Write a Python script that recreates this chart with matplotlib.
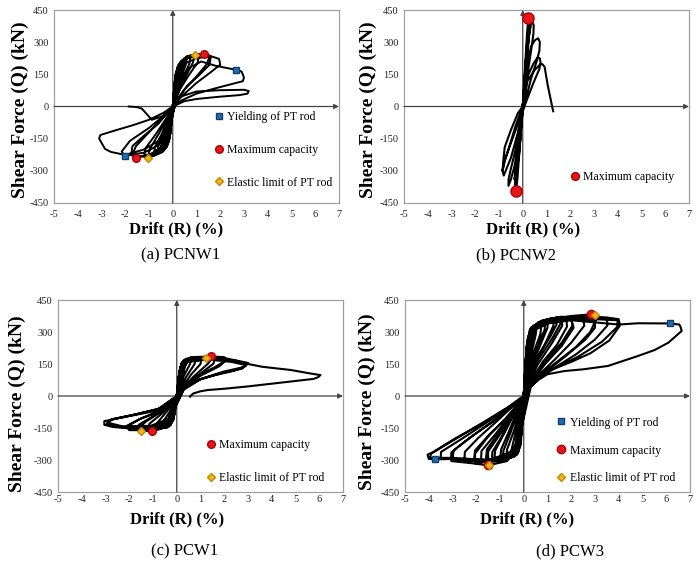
import numpy as np
import matplotlib.pyplot as plt

# --- 1. DATA (drift %, shear force kN) ---

pcnw1_curve = [
    (0, 0), (0.05, 60), (0.1, 110), (0.08, 80), (0.02, 20), (-0.05, -50), (-0.1, -100), (-0.08, -70), (-0.02, -15), (0, 0),
    (0.06, 90), (0.12, 150), (0.25, 190), (0.22, 160), (0.12, 90), (0.03, 20), (-0.06, -80), (-0.12, -140), (-0.25, -180),
    (-0.22, -150), (-0.12, -80), (-0.03, -15), (0, 0),
    (0.04, 60), (0.1, 130), (0.2, 175), (0.32, 200), (0.3, 170), (0.18, 110), (0.05, 30), (0, 0), (-0.04, -55),
    (-0.1, -125), (-0.2, -170), (-0.32, -190), (-0.3, -160), (-0.18, -100), (-0.05, -25), (0, 0),
    (0.1, 140), (0.2, 185), (0.4, 215), (0.36, 180), (0.2, 110), (0.05, 25), (-0.1, -120), (-0.2, -175), (-0.4, -205),
    (-0.36, -170), (-0.2, -100), (-0.05, -20), (0, 0),
    (0.05, 70), (0.12, 140), (0.25, 195), (0.5, 225), (0.48, 190), (0.3, 130), (0.1, 45), (0, 0), (-0.05, -70),
    (-0.12, -140), (-0.25, -190), (-0.5, -215), (-0.48, -180), (-0.3, -115), (-0.1, -35), (0, 0),
    (0.1, 130), (0.25, 195), (0.6, 232), (0.55, 195), (0.3, 120), (0.1, 40), (-0.1, -110), (-0.3, -185), (-0.65, -220),
    (-0.6, -180), (-0.35, -110), (-0.1, -30), (0, 0),
    (0.06, 80), (0.15, 160), (0.35, 210), (0.75, 237), (0.7, 200), (0.45, 140), (0.15, 55), (0, 0), (-0.06, -80),
    (-0.15, -160), (-0.4, -210), (-0.8, -230), (-0.75, -190), (-0.45, -125), (-0.15, -40), (0, 0),
    (0.12, 140), (0.3, 205), (0.6, 235), (0.92, 241), (0.85, 205), (0.5, 130), (0.15, 45), (-0.1, -90), (-0.3, -175),
    (-0.7, -225), (-1.05, -238), (-0.95, -195), (-0.55, -120), (-0.15, -35), (0, 0),
    (0.07, 90), (0.2, 175), (0.5, 225), (1.1, 243), (1.05, 205), (0.7, 150), (0.3, 80), (0.05, 15), (-0.07, -90),
    (-0.2, -170), (-0.6, -220), (-1.2, -235), (-1.15, -195), (-0.75, -135), (-0.3, -60), (0, 0),
    (0.15, 140), (0.35, 205), (0.8, 238), (1.33, 246), (1.55, 238), (1.45, 200), (1.0, 140), (0.5, 80), (0.15, 25),
    (-0.15, -100), (-0.5, -190), (-1.0, -228), (-1.55, -238), (-1.7, -225), (-1.55, -185), (-1.0, -120), (-0.4, -50), (0, 0),
    (0.2, 165), (0.6, 225), (1.2, 240), (1.6, 232), (1.55, 195), (1.1, 145), (0.6, 95), (0.2, 35), (0, 0),
    (-0.2, -160), (-0.7, -215), (-1.3, -232), (-1.75, -228), (-1.7, -185), (-1.2, -135), (-0.6, -80), (-0.2, -25), (0, 0),
    (0.2, 140), (0.5, 200), (1.0, 225), (1.6, 235), (1.95, 222), (2.0, 195), (1.6, 160), (1.0, 110), (0.4, 50), (0.1, 10),
    (-0.2, -110), (-0.6, -180), (-1.2, -215), (-2.03, -230), (-2.15, -210), (-1.8, -160), (-1.0, -100), (-0.4, -45), (0, 0),
    (0.3, 120), (0.7, 180), (1.2, 210), (1.8, 190), (2.67, 171), (2.9, 163), (3.0, 135), (2.95, 118), (2.5, 105),
    (1.8, 85), (1.0, 60), (0.4, 30), (0.1, 5), (-0.2, -90), (-0.6, -160), (-1.2, -200), (-2.0, -226), (-2.6, -212),
    (-2.85, -198), (-3.1, -150), (-3.05, -133), (-2.5, -114), (-1.7, -88), (-1.0, -62), (-0.4, -30), (0, 0),
    (0.3, 45), (1.0, 70), (2.0, 76), (3.0, 78), (3.2, 72), (3.15, 60), (2.8, 53), (2.0, 46), (1.0, 35), (0.5, 25),
    (0.1, 5), (-0.2, -20), (-0.4, -44), (-0.88, -62), (-1.3, -10), (-1.5, -3), (-1.85, 0),
]

pcnw2_curve = [
    (0, 0), (0.05, 60), (0.1, 130), (0.12, 150), (0.08, 90), (0, 0), (-0.05, -70), (-0.1, -140), (-0.07, -80), (0, 0),
    (0.08, 130), (0.15, 230), (0.18, 250), (0.12, 160), (0.02, 20), (-0.08, -120), (-0.16, -230), (-0.2, -255),
    (-0.15, -170), (-0.03, -20), (0, 0),
    (0.1, 170), (0.2, 320), (0.28, 370), (0.25, 330), (0.12, 170), (0, 0), (-0.12, -170), (-0.25, -300), (-0.35, -340),
    (-0.3, -290), (-0.15, -140), (0, 0),
    (0.1, 190), (0.18, 340), (0.24, 414), (0.3, 400), (0.28, 350), (0.15, 180), (0.02, 10), (-0.12, -180),
    (-0.22, -330), (-0.28, -395), (-0.33, -370), (-0.3, -310), (-0.15, -150), (0, 0),
    (0.12, 180), (0.25, 320), (0.35, 385), (0.42, 392), (0.46, 380), (0.45, 340), (0.35, 260), (0.2, 150), (0.02, 0),
    (-0.15, -150), (-0.35, -280), (-0.5, -340), (-0.6, -370), (-0.6, -340), (-0.5, -290), (-0.3, -200), (0, 0),
    (0.15, 170), (0.35, 280), (0.52, 310), (0.65, 318), (0.72, 300), (0.7, 260), (0.6, 215), (0.35, 130), (0.05, 0),
    (-0.2, -120), (-0.5, -240), (-0.72, -300), (-0.8, -322), (-0.85, -300), (-0.8, -265), (-0.6, -200), (-0.3, -90), (0, 0),
    (0.2, 140), (0.45, 200), (0.62, 228), (0.72, 225), (0.75, 205), (0.7, 175), (0.45, 110), (0.1, 10), (-0.3, -110),
    (-0.6, -200), (-0.75, -250), (-0.85, -300), (-0.82, -255), (-0.76, -190), (-0.5, -110), (-0.2, -30), (0, 0),
    (0.2, 120), (0.5, 170), (0.72, 195), (0.82, 198), (0.92, 185), (1.05, 100), (1.2, 20), (1.28, -22),
]

pcw1_curve = [
    (0, 0), (0.03, 30), (0.08, 90), (0.15, 130), (0.12, 100), (0.05, 40), (0, 0), (-0.03, -30), (-0.08, -80),
    (-0.15, -110), (-0.12, -85), (-0.05, -30), (0, 0),
    (0.05, 50), (0.12, 120), (0.25, 160), (0.4, 175), (0.35, 145), (0.15, 70), (0, 0), (-0.05, -45), (-0.15, -110),
    (-0.3, -140), (-0.45, -150), (-0.4, -125), (-0.15, -55), (0, 0),
    (0.06, 60), (0.15, 135), (0.3, 168), (0.6, 180), (0.56, 150), (0.3, 95), (0.08, 25), (0, 0), (-0.06, -55),
    (-0.15, -115), (-0.35, -145), (-0.65, -152), (-0.6, -125), (-0.3, -75), (-0.06, -15), (0, 0),
    (0.1, 100), (0.2, 150), (0.5, 178), (0.8, 182), (0.75, 150), (0.4, 90), (0.1, 25), (-0.1, -70), (-0.25, -130),
    (-0.6, -150), (-0.9, -155), (-0.85, -130), (-0.4, -70), (-0.05, -10), (0, 0),
    (0.08, 90), (0.2, 155), (0.6, 180), (1.05, 182), (1.0, 150), (0.6, 100), (0.2, 35), (0, 0), (-0.08, -60),
    (-0.25, -135), (-0.7, -152), (-1.2, -158), (-1.15, -130), (-0.6, -80), (-0.1, -15), (0, 0),
    (0.1, 100), (0.25, 160), (0.6, 180), (1.23, 177), (1.43, 187), (1.5, 178), (1.3, 150), (0.7, 90), (0.2, 30),
    (-0.1, -60), (-0.3, -130), (-0.7, -155), (-1.03, -164), (-1.52, -164), (-1.6, -150), (-1.3, -120), (-0.6, -70),
    (-0.1, -10), (0, 0),
    (0.12, 110), (0.3, 165), (0.9, 182), (1.6, 180), (1.55, 152), (1.0, 105), (0.4, 45), (0, 0), (-0.1, -65),
    (-0.35, -140), (-1.0, -156), (-1.65, -158), (-1.6, -135), (-1.0, -95), (-0.3, -40), (0, 0),
    (0.1, 90), (0.3, 165), (0.8, 183), (1.5, 185), (2.0, 182), (2.1, 170), (1.8, 140), (1.0, 95), (0.4, 50), (0.1, 15),
    (-0.1, -50), (-0.3, -125), (-0.8, -155), (-1.5, -160), (-2.0, -160), (-2.1, -140), (-1.6, -110), (-0.8, -75),
    (-0.3, -45), (0, 0),
    (0.3, 160), (1.0, 180), (1.9, 178), (2.05, 165), (1.6, 135), (0.8, 90), (0.2, 30), (-0.3, -120), (-1.0, -150),
    (-1.9, -155), (-2.05, -140), (-1.5, -105), (-0.6, -65), (0, 0),
    (0.1, 80), (0.3, 160), (1.0, 180), (2.0, 178), (2.7, 162), (3.0, 155), (2.9, 140), (2.4, 118), (1.5, 95),
    (0.8, 72), (0.4, 50), (0, 0), (-0.2, -70), (-0.5, -140), (-1.2, -155), (-2.0, -152), (-2.7, -145), (-3.05, -135),
    (-3.05, -118), (-2.5, -105), (-1.8, -90), (-1.0, -72), (-0.3, -50), (0, 0),
    (0.4, 160), (1.5, 175), (2.5, 165), (2.95, 150), (2.8, 135), (2.0, 115), (1.0, 80), (0.3, 35), (-0.3, -110),
    (-1.0, -145), (-2.2, -148), (-2.95, -130), (-2.8, -112), (-1.8, -88), (-0.8, -62), (0, 0),
    (0.35, 158), (1.2, 172), (2.3, 160), (2.9, 145), (2.75, 128), (1.9, 108), (1.0, 78), (0.3, 30), (-0.3, -105),
    (-1.1, -140), (-2.3, -142), (-2.9, -125), (-2.7, -108), (-1.7, -85), (-0.7, -58), (0, 0),
    (0.2, 120), (0.5, 165), (1.2, 178), (2.0, 175), (3.0, 150), (3.6, 137), (4.8, 122), (5.6, 106), (6.05, 98),
    (5.95, 88), (5.75, 80), (4.8, 68), (4.0, 58), (3.0, 45), (2.0, 34), (1.3, 28), (1.0, 22), (0.7, 12), (0.6, 2),
    (0.56, -3),
]

pcw3_curve = [
    (0, 0), (0.03, 60), (0.08, 150), (0.12, 200), (0.1, 150), (0.04, 60), (0, 0), (-0.03, -60), (-0.08, -150),
    (-0.12, -190), (-0.1, -140), (-0.04, -50), (0, 0),
    (0.05, 100), (0.12, 230), (0.25, 290), (0.4, 310), (0.35, 270), (0.18, 170), (0.05, 50), (0, 0), (-0.05, -100),
    (-0.12, -220), (-0.25, -270), (-0.4, -285), (-0.35, -240), (-0.18, -140), (-0.05, -40), (0, 0),
    (0.05, 110), (0.13, 240), (0.3, 305), (0.55, 328), (0.5, 285), (0.3, 190), (0.08, 55), (0, 0), (-0.05, -110),
    (-0.15, -235), (-0.35, -278), (-0.55, -290), (-0.5, -245), (-0.3, -150), (-0.08, -35), (0, 0),
    (0.05, 100), (0.15, 260), (0.35, 320), (0.75, 340), (0.7, 290), (0.4, 200), (0.1, 60), (0, 0), (-0.08, -120),
    (-0.2, -250), (-0.45, -285), (-0.75, -295), (-0.7, -250), (-0.4, -160), (-0.1, -40), (0, 0),
    (0.06, 130), (0.18, 280), (0.45, 330), (0.9, 348), (0.88, 310), (0.6, 240), (0.25, 130), (0.05, 25), (0, 0),
    (-0.08, -135), (-0.22, -260), (-0.55, -290), (-0.9, -298), (-0.85, -255), (-0.55, -170), (-0.15, -45), (0, 0),
    (0.1, 180), (0.25, 300), (0.6, 345), (1.0, 355), (1.0, 320), (0.7, 240), (0.3, 130), (0.05, 20), (-0.1, -150),
    (-0.3, -270), (-0.7, -295), (-1.0, -300), (-0.95, -250), (-0.6, -160), (-0.2, -50), (0, 0),
    (0.08, 170), (0.25, 310), (0.7, 350), (1.25, 362), (1.25, 330), (0.9, 245), (0.4, 140), (0.08, 30), (-0.1, -160),
    (-0.3, -275), (-0.8, -298), (-1.25, -305), (-1.2, -255), (-0.8, -170), (-0.3, -60), (0, 0),
    (0.1, 200), (0.3, 318), (0.75, 352), (1.35, 365), (1.38, 335), (1.1, 275), (0.6, 190), (0.2, 80), (0, 0),
    (-0.1, -170), (-0.35, -278), (-0.9, -300), (-1.35, -306), (-1.32, -262), (-0.9, -185), (-0.35, -70), (0, 0),
    (0.1, 170), (0.3, 310), (0.8, 355), (1.5, 370), (1.55, 340), (1.2, 270), (0.6, 170), (0.2, 70), (0, 0),
    (-0.1, -140), (-0.3, -265), (-0.8, -300), (-1.5, -310), (-1.5, -260), (-1.0, -180), (-0.5, -100), (-0.1, -20), (0, 0),
    (0.3, 300), (0.9, 350), (1.6, 362), (1.62, 330), (1.2, 250), (0.6, 150), (0.15, 45), (-0.15, -190), (-0.5, -280),
    (-1.2, -300), (-1.6, -305), (-1.55, -250), (-1.0, -165), (-0.4, -75), (0, 0),
    (0.3, 310), (0.9, 352), (1.5, 366), (1.8, 362), (1.82, 325), (1.4, 240), (0.8, 160), (0.25, 60), (0, 0),
    (-0.2, -210), (-0.6, -285), (-1.3, -302), (-1.8, -308), (-1.78, -258), (-1.2, -180), (-0.6, -95), (-0.15, -25), (0, 0),
    (0.35, 320), (1.0, 360), (1.6, 372), (2.0, 365), (2.05, 330), (1.6, 250), (0.9, 160), (0.3, 70), (0, 0),
    (-0.2, -220), (-0.6, -285), (-1.4, -305), (-2.05, -315), (-2.05, -270), (-1.5, -190), (-0.8, -110), (-0.2, -30), (0, 0),
    (0.4, 320), (1.2, 355), (2.0, 360), (2.1, 320), (1.6, 235), (0.9, 150), (0.25, 55), (-0.2, -210), (-0.7, -280),
    (-1.5, -300), (-2.1, -305), (-2.05, -255), (-1.4, -175), (-0.6, -90), (0, 0),
    (0.35, 318), (1.1, 358), (1.9, 368), (2.5, 362), (2.55, 330), (2.0, 250), (1.3, 170), (0.6, 95), (0.15, 30), (0, 0),
    (-0.25, -235), (-0.8, -295), (-1.7, -305), (-2.5, -305), (-2.48, -262), (-1.9, -195), (-1.1, -115), (-0.35, -35), (0, 0),
    (0.3, 320), (1.0, 360), (2.0, 375), (2.84, 383), (2.98, 379), (3.05, 360), (2.8, 300), (2.2, 230), (1.4, 160),
    (0.7, 100), (0.2, 40), (0, 0), (-0.2, -230), (-0.7, -305), (-1.5, -325), (-2.2, -315), (-3.05, -305),
    (-3.05, -265), (-2.5, -215), (-1.7, -150), (-0.8, -80), (-0.2, -20), (0, 0),
    (0.4, 320), (1.2, 355), (2.2, 365), (3.0, 355), (3.0, 320), (2.6, 265), (1.8, 190), (1.0, 120), (0.3, 45),
    (-0.3, -250), (-1.0, -305), (-2.0, -305), (-3.0, -295), (-2.95, -255), (-2.2, -190), (-1.3, -120), (-0.4, -40), (0, 0),
    (0.4, 325), (1.4, 360), (2.5, 368), (3.5, 362), (3.52, 330), (3.0, 265), (2.2, 195), (1.4, 140), (0.6, 80), (0.15, 25),
    (0, 0), (-0.3, -245), (-1.2, -300), (-2.4, -298), (-3.5, -292), (-3.48, -262), (-2.6, -200), (-1.5, -120),
    (-0.5, -45), (0, 0),
    (0.4, 330), (1.5, 365), (2.5, 375), (3.5, 368), (4.0, 360), (4.05, 330), (3.6, 260), (2.8, 200), (2.0, 160),
    (1.2, 125), (0.6, 90), (0.2, 40), (0, 0), (-0.3, -240), (-1.0, -300), (-2.0, -300), (-3.0, -295), (-3.7, -297),
    (-4.0, -295), (-4.05, -275), (-3.8, -262), (-2.95, -203), (-1.6, -120), (-0.6, -50), (0, 0),
    (0.5, 335), (1.6, 360), (3.0, 360), (3.95, 355), (3.95, 325), (3.3, 255), (2.3, 185), (1.4, 135), (0.6, 85), (0, 0),
    (-0.4, -260), (-1.5, -300), (-3.0, -290), (-3.95, -290), (-3.9, -270), (-3.0, -210), (-1.8, -130), (-0.7, -55), (0, 0),
    (0.3, 300), (1.0, 340), (2.0, 355), (3.0, 345), (4.0, 335), (4.82, 341), (6.16, 340), (6.55, 335), (6.6, 325),
    (6.65, 305), (6.09, 250), (5.5, 215), (4.82, 188), (3.55, 141), (2.5, 125), (1.71, 117), (1.0, 102), (0.65, 78),
    (0.3, 47), (0.08, 0),
]

# key points: (drift, force)
pcnw1_yield = [(2.67, 171), (-2.03, -230)]
pcnw1_max = [(1.33, 246), (-1.55, -238)]
pcnw1_elastic = [(0.92, 241), (-1.05, -238)]

pcnw2_max = [(0.24, 414), (-0.28, -395)]

pcw1_max = [(1.43, 187), (-1.03, -164)]
pcw1_elastic = [(1.23, 177), (-1.52, -164)]

pcw3_yield = [(6.16, 340), (-3.73, -297)]
pcw3_max = [(2.84, 383), (-1.5, -325)]
pcw3_elastic = [(2.98, 379), (-1.47, -324)]

captions = ["(a) PCNW1", "(b) PCNW2", "(c) PCW1", "(d) PCW3"]
x_ticks = list(range(-5, 8))
y_ticks = list(range(-450, 451, 150))

# --- 2. STYLE ---

W, H = 700, 568
serif = "Liberation Serif"
plt.rcParams["font.family"] = serif
plt.rcParams["axes.unicode_minus"] = False

marker_styles = {
    "yield": dict(marker="s", color="#1f6db5", markeredgecolor="#10406e", label="Yielding of PT rod"),
    "max": dict(marker="o", color="#e8161c", markeredgecolor="#b00000", label="Maximum capacity"),
    "elastic": dict(marker="D", color="#f2b418", markeredgecolor="#c58a00", label="Elastic limit of PT rod"),
}


def px_axes(fig, left, top, right, bottom):
    return fig.add_axes([left / W, 1 - bottom / H, (right - left) / W, (bottom - top) / H])


def setup_axes(ax, xpad):
    ax.set_xlim(-5, 7)
    ax.set_ylim(-450, 450)
    ax.set_xticks(x_ticks)
    ax.set_yticks(y_ticks)
    ax.tick_params(length=0, labelsize=7.5, colors="#222222")
    ax.tick_params(axis="x", pad=xpad)
    ax.tick_params(axis="y", pad=4)
    for s in ax.spines.values():
        s.set_color("#a0a0a0")
        s.set_linewidth(0.9)
    arrow = dict(arrowstyle="-|>", color="#444444", lw=0.9, mutation_scale=7, shrinkA=0, shrinkB=0)
    ax.annotate("", xy=(0, 450), xytext=(0, -450), arrowprops=arrow, annotation_clip=False)
    ax.annotate("", xy=(7, 0), xytext=(-5, 0), arrowprops=arrow, annotation_clip=False)


def draw_curve(ax, curve, lw=1.4):
    d = [p[0] for p in curve]
    f = [p[1] for p in curve]
    ax.plot(d, f, color="black", lw=lw, solid_joinstyle="round", zorder=3)


def draw_points(ax, pts, kind, ms):
    d = [p[0] for p in pts]
    f = [p[1] for p in pts]
    ax.plot(d, f, linestyle="none", markersize=ms, zorder=5, **marker_styles[kind])


def add_legend(ax, x0, yc, spacing, markerscale=1.0):
    ax.legend(loc="center left", bbox_to_anchor=(x0, yc), frameon=False, prop={"family": serif, "size": 8.5},
              handlelength=0.8, handletextpad=0.35, labelspacing=spacing, borderpad=0, borderaxespad=0,
              markerscale=markerscale, numpoints=1)


# --- 3. FIGURE ---

fig = plt.figure(figsize=(W / 100, H / 100), dpi=100)

ax_a = px_axes(fig, 54, 10, 339, 203)
ax_b = px_axes(fig, 404, 10, 689, 203)
ax_c = px_axes(fig, 58, 300, 343, 492)
ax_d = px_axes(fig, 405, 300, 690, 492)

for ax in (ax_a, ax_b):
    setup_axes(ax, 5)
for ax in (ax_c, ax_d):
    setup_axes(ax, 2.5)

# (a) PCNW1
draw_curve(ax_a, pcnw1_curve)
draw_points(ax_a, pcnw1_yield, "yield", 5)
draw_points(ax_a, pcnw1_max, "max", 5.5)
draw_points(ax_a, pcnw1_elastic, "elastic", 4)
add_legend(ax_a, 0.561, 0.275, 1.75)

# (b) PCNW2
draw_curve(ax_b, pcnw2_curve, lw=1.5)
draw_points(ax_b, pcnw2_max, "max", 8)
add_legend(ax_b, 0.582, 0.135, 1.6, markerscale=0.7)

# (c) PCW1
draw_curve(ax_c, pcw1_curve, lw=1.5)
draw_points(ax_c, pcw1_max, "max", 5.5)
draw_points(ax_c, pcw1_elastic, "elastic", 4)
add_legend(ax_c, 0.519, 0.159, 1.75)

# (d) PCW3
draw_curve(ax_d, pcw3_curve, lw=1.5)
draw_points(ax_d, pcw3_yield, "yield", 5)
draw_points(ax_d, pcw3_max, "max", 6)
draw_points(ax_d, pcw3_elastic, "elastic", 4)
add_legend(ax_d, 0.53, 0.216, 1.35)

# axis titles and captions, placed in figure pixels
ylab_pos = [(20, 110), (368, 110), (17, 404), (367, 402)]
xlab_pos = [(176, 229), (533, 229), (177, 519), (527, 519)]
cap_pos = [(181, 255), (516, 255), (185, 551), (570, 551)]

for (x, y) in ylab_pos:
    fig.text(x / W, 1 - y / H, "Shear Force (Q) (kN)", rotation=90, ha="center", va="center",
             fontsize=14, fontweight="bold")
for (x, y) in xlab_pos:
    fig.text(x / W, 1 - y / H, "Drift (R) (%)", ha="center", va="center", fontsize=12, fontweight="bold")
for cap, (x, y) in zip(captions, cap_pos):
    fig.text(x / W, 1 - y / H, cap, ha="center", va="center", fontsize=12)

fig.savefig("out.png", dpi=100)
